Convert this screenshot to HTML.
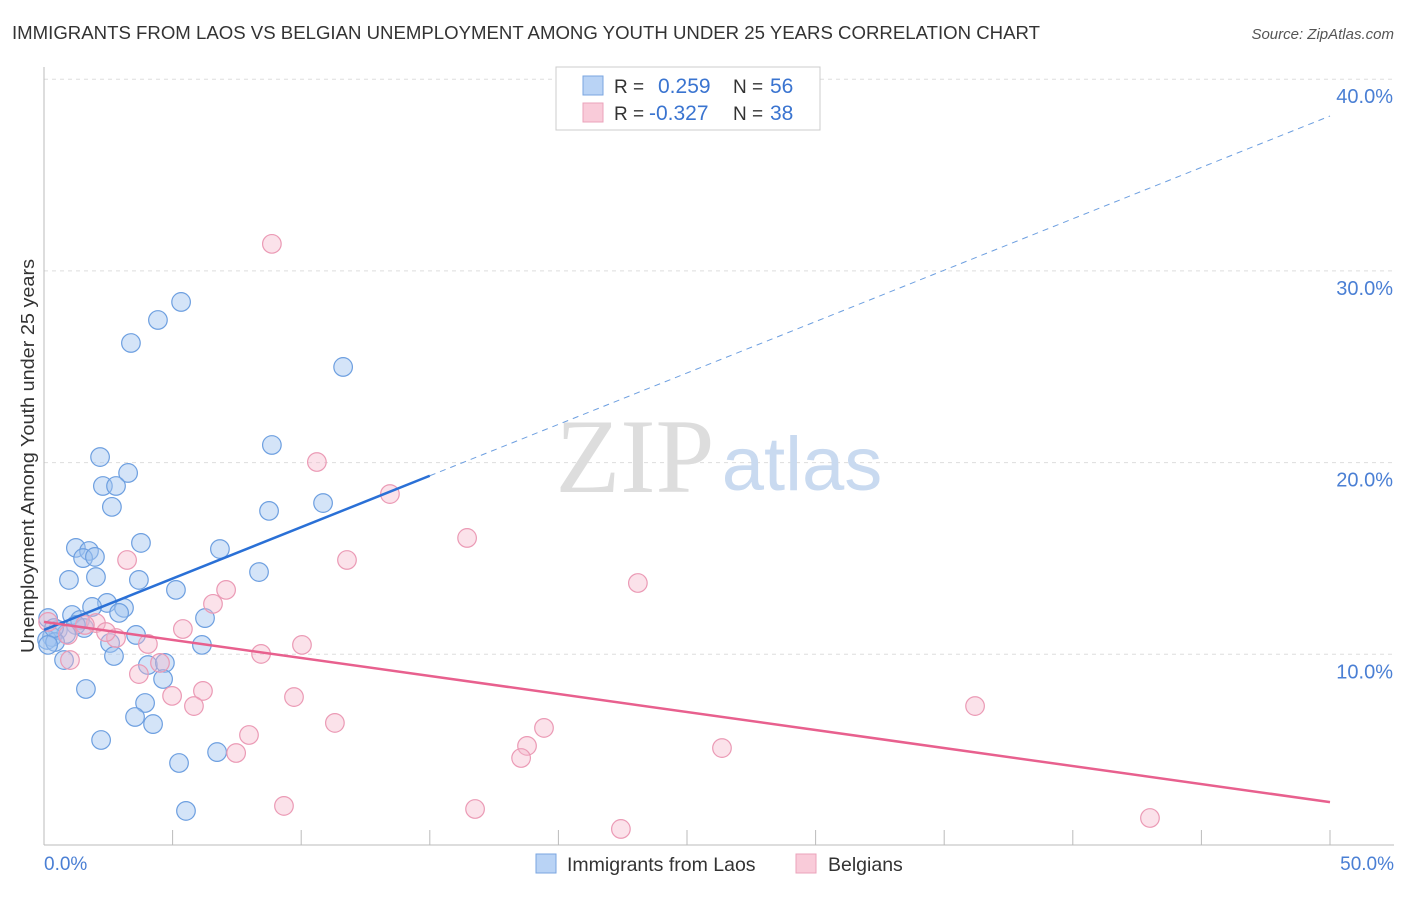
<!DOCTYPE html>
<html><head><meta charset="utf-8"><style>
body{margin:0;background:#fff;font-family:"Liberation Sans",sans-serif}
</style></head><body>
<svg width="1406" height="892" xmlns="http://www.w3.org/2000/svg">
<text x="12" y="39" font-size="18" fill="#333" textLength="1028" lengthAdjust="spacingAndGlyphs">IMMIGRANTS FROM LAOS VS BELGIAN UNEMPLOYMENT AMONG YOUTH UNDER 25 YEARS CORRELATION CHART</text>
<text x="1394" y="39" font-size="15" fill="#555" font-style="italic" text-anchor="end">Source: ZipAtlas.com</text>
<g id="grid"></g>
<text x="635" y="492" font-size="106" fill="#ddd" font-family="Liberation Serif,serif" text-anchor="middle">ZIP</text>
<text x="802" y="490" font-size="76" fill="#c9daf0" text-anchor="middle">atlas</text>
<line x1="44" y1="67" x2="44" y2="845" stroke="#bbb"/>
<line x1="44" y1="845" x2="1394" y2="845" stroke="#bbb"/>
<g id="marks"></g>
<text transform="translate(34,456) rotate(-90)" font-size="18.5" fill="#333" text-anchor="middle" textLength="394" lengthAdjust="spacingAndGlyphs">Unemployment Among Youth under 25 years</text>
<text x="44" y="870" font-size="19" fill="#4a7fd4">0.0%</text>
<text x="1394" y="870" font-size="19" fill="#4a7fd4" text-anchor="end">50.0%</text>
<g>
<rect x="556" y="67" width="264" height="63" fill="#fff" stroke="#ccc"/>
<rect x="583" y="76" width="20" height="19" fill="#b9d3f5" stroke="#7aa6e0"/>
<rect x="583" y="103" width="20" height="19" fill="#f9cbd9" stroke="#eba3bb"/>
<text x="614" y="93" font-size="19" fill="#333">R = </text><text x="658" y="93" font-size="21" fill="#3a74d0">0.259</text>
<text x="733" y="93" font-size="19" fill="#333">N = </text><text x="770" y="93" font-size="21" fill="#3a74d0">56</text>
<text x="614" y="120" font-size="19" fill="#333">R = </text><text x="649" y="120" font-size="21" fill="#3a74d0">-0.327</text>
<text x="733" y="120" font-size="19" fill="#333">N = </text><text x="770" y="120" font-size="21" fill="#3a74d0">38</text>
</g>
<g>
<rect x="536" y="854" width="20" height="19" fill="#b9d3f5" stroke="#7aa6e0"/>
<text x="567" y="871" font-size="19.5" fill="#333">Immigrants from Laos</text>
<rect x="796" y="854" width="20" height="19" fill="#f9cbd9" stroke="#eba3bb"/>
<text x="828" y="871" font-size="19.5" fill="#333">Belgians</text>
</g>
</svg>
<script>
const yTicks=[10,20,30,40];
const yTickLabels=["10.0%","20.0%","30.0%","40.0%"];
const xTicks=[0,5,10,15,20,25,30,35,40,45,50];
const laosX=[5.33,4.43,3.38,11.63,8.86,2.18,3.27,2.29,2.80,2.64,8.75,10.85,3.77,6.84,1.24,1.75,1.52,1.98,0.97,2.02,3.69,8.36,5.13,2.45,1.87,3.11,2.92,6.26,1.09,1.40,0.16,1.56,1.24,0.54,0.86,0.31,0.12,0.43,3.58,2.57,6.14,2.72,0.78,4.04,4.70,4.63,1.63,3.93,3.54,4.24,2.22,6.73,5.25,5.52,0.39,0.16];
const laosY=[28.38,27.44,26.24,24.99,20.92,20.29,19.46,18.78,18.78,17.69,17.48,17.89,15.81,15.49,15.55,15.39,15.02,15.08,13.88,14.03,13.88,14.29,13.36,12.68,12.47,12.42,12.16,11.89,12.05,11.79,11.89,11.37,11.53,11.27,11.06,10.90,10.75,10.64,11.01,10.59,10.49,9.91,9.70,9.44,9.55,8.71,8.19,7.46,6.73,6.36,5.53,4.90,4.33,1.83,11.37,10.49];
const belX=[8.86,10.61,13.45,16.45,11.78,3.23,23.09,7.08,6.57,5.40,4.04,10.03,8.44,2.80,2.02,1.59,0.93,0.16,1.01,4.51,3.69,6.18,4.98,9.72,5.83,11.31,19.44,7.97,36.20,18.78,18.55,26.36,7.47,9.33,16.76,22.43,43.00,2.41];
const belY=[31.41,20.03,18.36,16.07,14.92,14.92,13.72,13.36,12.63,11.32,10.54,10.49,10.02,10.85,11.63,11.53,11.01,11.69,9.70,9.55,8.97,8.09,7.83,7.77,7.30,6.42,6.16,5.79,7.30,5.22,4.59,5.11,4.85,2.09,1.93,0.89,1.46,11.16];
const laosTrend=[11.27,38.08];
const laosSolidEnd=15;
const belTrend=[11.69,2.29];
const NS="http://www.w3.org/2000/svg";
const X=v=>44+v/50*1286;
const Y=v=>846-v*19.17;
function mk(t,a,p){const e=document.createElementNS(NS,t);for(const k in a)e.setAttribute(k,a[k]);p.appendChild(e);return e;}
const grid=document.getElementById('grid'),marks=document.getElementById('marks');
yTicks.forEach((t,i)=>{
 const l=mk('line',{x1:44,x2:1394,y1:Y(t),y2:Y(t),stroke:'#ddd','stroke-dasharray':'4,4'},grid);
 
 
 const tx=mk('text',{x:1393,y:Y(t)+24,'font-size':20,fill:'#4a7fd4','text-anchor':'end'},grid);
 tx.textContent=yTickLabels[i];
 
 
});
xTicks.forEach(t=>{
 const l=mk('line',{x1:X(t),x2:X(t),y1:830,y2:845,stroke:'#bbb'},grid);
 
 
});
laosX.forEach((v,i)=>{
 const c=mk('circle',{cx:X(v),cy:Y(laosY[i]),r:9.3,fill:'rgba(160,196,240,0.45)',stroke:'#6d9fe0','stroke-width':1.2},marks);
 
 
});
belX.forEach((v,i)=>{
 const c=mk('circle',{cx:X(v),cy:Y(belY[i]),r:9.3,fill:'rgba(246,182,202,0.4)',stroke:'#eb9ab5','stroke-width':1.2},marks);
 
 
});
const ly=x=>laosTrend[0]+(laosTrend[1]-laosTrend[0])*x/50;
let t1=mk('line',{x1:X(0),y1:Y(ly(0)),x2:X(laosSolidEnd),y2:Y(ly(laosSolidEnd)),stroke:'#2a70d6','stroke-width':2.5},marks);


let t2=mk('line',{x1:X(laosSolidEnd),y1:Y(ly(laosSolidEnd)),x2:X(50),y2:Y(ly(50)),stroke:'#6d9fe0','stroke-width':1,'stroke-dasharray':'6,5'},marks);


let t3=mk('line',{x1:X(0),y1:Y(belTrend[0]),x2:X(50),y2:Y(belTrend[1]),stroke:'#e8608e','stroke-width':2.5},marks);


</script>
</body></html>
